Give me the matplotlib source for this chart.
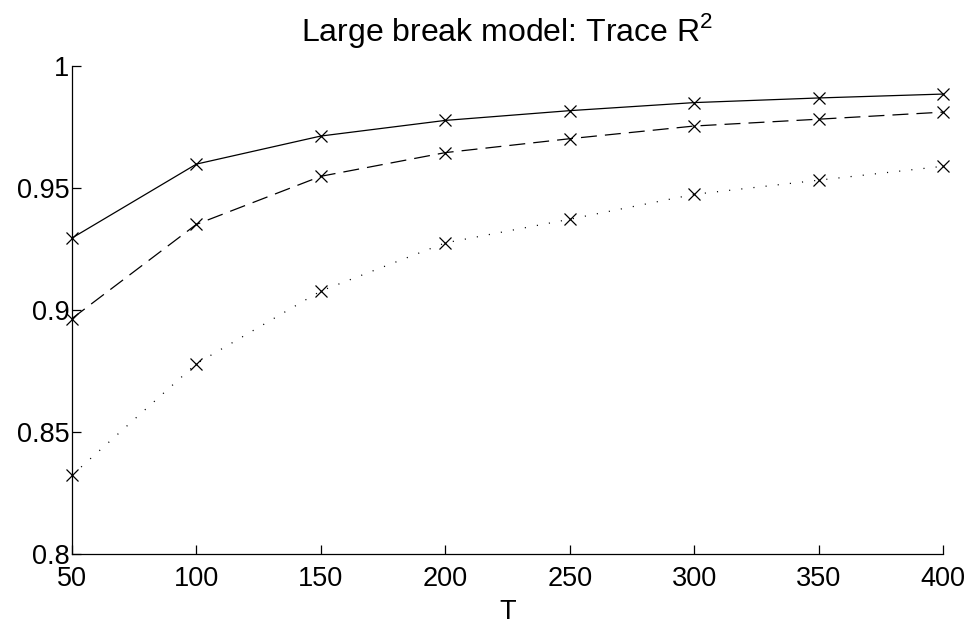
import matplotlib
matplotlib.use("Agg")
import matplotlib.pyplot as plt

T = [50, 100, 150, 200, 250, 300, 350, 400]
solid_vals = [0.9295, 0.9598, 0.9713, 0.9777, 0.9817, 0.9850, 0.9869, 0.9885]
dashed_vals = [0.8965, 0.9351, 0.9548, 0.9645, 0.9702, 0.9754, 0.9782, 0.9811]
dotted_vals = [0.8323, 0.8780, 0.9078, 0.9275, 0.9372, 0.9474, 0.9532, 0.9589]
xticks = [50, 100, 150, 200, 250, 300, 350, 400]
yticks = [0.8, 0.85, 0.9, 0.95, 1.0]
ytick_labels = ["0.8", "0.85", "0.9", "0.95", "1"]

plt.rcParams['font.family'] = ['Liberation Sans', 'DejaVu Sans']
plt.rcParams['lines.scale_dashes'] = False
plt.rcParams['mathtext.fontset'] = 'custom'
plt.rcParams['mathtext.rm'] = 'Liberation Sans'

fig = plt.figure(figsize=(9.72, 6.25), dpi=100)
ax = fig.add_axes([72/972, 1-554/625, (943-72)/972, (554-66)/625])

mk = dict(marker='x', markersize=9, markeredgewidth=0.9, color='black',
          linewidth=0.9, clip_on=False)
ax.plot(T, solid_vals, linestyle='-', **mk)
ax.plot(T, dashed_vals, linestyle=(0, (11.5, 5.8)), **mk)
ax.plot(T, dotted_vals, linestyle=(0, (0.8, 8.0)), **mk)

ax.set_xlim(50, 400)
ax.set_ylim(0.8, 1.0)
ax.set_xticks(xticks)
ax.set_xticklabels([str(v) for v in xticks])
ax.set_yticks(yticks)
ax.set_yticklabels(ytick_labels)
ax.spines['top'].set_visible(False)
ax.spines['right'].set_visible(False)
for s in ['left', 'bottom']:
    ax.spines[s].set_linewidth(0.9)
ax.tick_params(direction='in', length=6.5, width=0.9, labelsize=19.5)
ax.tick_params(axis='x', pad=8.5)
ax.tick_params(axis='y', pad=2)
ax.set_xlabel('T', fontsize=19.5, labelpad=5)
ax.set_title('Large break model: Trace R$^2$', fontsize=23, pad=18)

fig.savefig('out.png', dpi=100)
